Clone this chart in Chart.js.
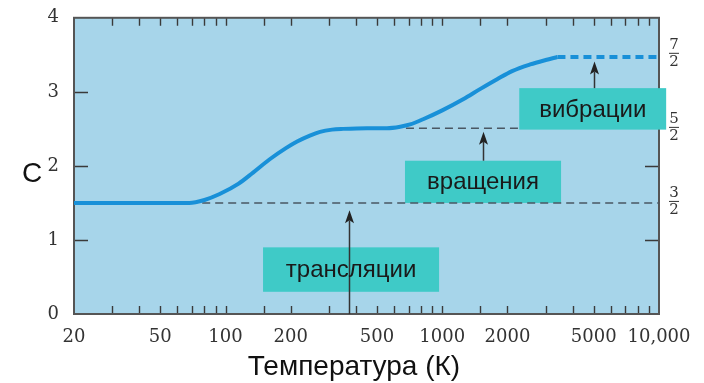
<!DOCTYPE html>
<html>
<head>
<meta charset="utf-8">
<script src="https://cdn.jsdelivr.net/npm/chart.js@4"></script>
<style>
  body { margin: 0; background: #fff; }
  #wrap { width: 704px; height: 383px; }
</style>
</head>
<body>
<div id="wrap"><canvas id="myChart" width="704" height="383"></canvas></div>
<script>
// heat capacity curve
var curveT = [20, 40, 68, 80, 94, 115, 134, 160, 190, 214, 245, 273, 310, 349, 450, 556, 640, 711, 816, 1000, 1248, 1500, 1791, 2100, 2543, 3000, 3400];
var curveC = [1.5, 1.5, 1.5, 1.54, 1.62, 1.76, 1.91, 2.09, 2.24, 2.33, 2.41, 2.46, 2.49, 2.50, 2.51, 2.51, 2.53, 2.56, 2.63, 2.75, 2.90, 3.04, 3.17, 3.28, 3.37, 3.43, 3.47];
// dashed continuation (vibration plateau)
var vibT = [3400, 10000];
var vibC = [3.47, 3.47];
// reference levels
var transT = [68, 10000];
var transC = [1.5, 1.5];
var rotT = [680, 2266];
var rotC = [2.51, 2.51];
// axis labels
var xLabelVals = [20, 50, 100, 200, 500, 1000, 2000, 5000, 10000];
var yLabelVals = [0, 1, 2, 3, 4];
var fracLevels = [1.5, 2.5, 3.5];
var fracNums = ['3', '5', '7'];
// annotation boxes: arrow at T, arrow from C0 to C1, box T range / C range
var notes = [
  { text: 'трансляции', arrowT: 370, from: 0, to: 1.40, t0: 149, t1: 967, c0: 0.30, c1: 0.90 },
  { text: 'вращения', arrowT: 1540, from: 2.07, to: 2.46, t0: 673, t1: 3533, c0: 1.50, c1: 2.07 },
  { text: 'вибрации', arrowT: 5000, from: 3.05, to: 3.41, t0: 2266, t1: 10790, c0: 2.49, c1: 3.05 }
];

function pts(xs, ys) {
  return xs.map(function (x, i) { return { x: x, y: ys[i] }; });
}

var blue = '#1890d8';
var grey = '#4a5763';

var decor = {
  id: 'decor',
  beforeDatasetsDraw: function (chart) {
    var ctx = chart.ctx, ca = chart.chartArea;
    var xs = chart.scales.x, ys = chart.scales.y;
    ctx.save();
    ctx.fillStyle = '#a7d5ea';
    ctx.fillRect(ca.left, ca.top, ca.right - ca.left, ca.bottom - ca.top);
    // inward ticks
    ctx.strokeStyle = '#3a3a3a';
    ctx.lineWidth = 1.4;
    ctx.beginPath();
    xs.ticks.forEach(function (t) {
      var px = Math.round(xs.getPixelForValue(t.value)) + 0.5;
      if (px <= ca.left + 2 || px >= ca.right - 2) return;
      ctx.moveTo(px, ca.bottom); ctx.lineTo(px, ca.bottom - 8);
      ctx.moveTo(px, ca.top); ctx.lineTo(px, ca.top + 8);
    });
    [1, 2, 3].forEach(function (v) {
      var py = Math.round(ys.getPixelForValue(v)) + 0.5;
      ctx.moveTo(ca.left, py); ctx.lineTo(ca.left + 14, py);
      ctx.moveTo(ca.right, py); ctx.lineTo(ca.right - 14, py);
    });
    ctx.stroke();
    // frame
    ctx.strokeStyle = '#555';
    ctx.lineWidth = 2;
    ctx.strokeRect(ca.left, ca.top, ca.right - ca.left, ca.bottom - ca.top);
    // boxes
    ctx.fillStyle = '#3fcac7';
    notes.forEach(function (n) {
      var x0 = xs.getPixelForValue(n.t0), x1 = xs.getPixelForValue(n.t1);
      var y0 = ys.getPixelForValue(n.c1), y1 = ys.getPixelForValue(n.c0);
      ctx.fillRect(x0, y0, x1 - x0, y1 - y0);
    });
    ctx.restore();
  },
  afterDatasetsDraw: function (chart) {
    var ctx = chart.ctx;
    var xs = chart.scales.x, ys = chart.scales.y;
    ctx.save();
    notes.forEach(function (n) {
      var ax = Math.round(xs.getPixelForValue(n.arrowT)) + 0.5;
      var yA = ys.getPixelForValue(n.from), yB = ys.getPixelForValue(n.to);
      ctx.strokeStyle = '#333';
      ctx.lineWidth = 1.5;
      ctx.beginPath();
      ctx.moveTo(ax, yA); ctx.lineTo(ax, yB + 10);
      ctx.stroke();
      ctx.fillStyle = '#222';
      ctx.beginPath();
      ctx.moveTo(ax, yB);
      ctx.lineTo(ax - 4.5, yB + 13);
      ctx.lineTo(ax, yB + 10);
      ctx.lineTo(ax + 4.5, yB + 13);
      ctx.closePath();
      ctx.fill();
      var cx = (xs.getPixelForValue(n.t0) + xs.getPixelForValue(n.t1)) / 2;
      var cy = (ys.getPixelForValue(n.c0) + ys.getPixelForValue(n.c1)) / 2;
      ctx.fillStyle = '#1a1a1a';
      ctx.font = '24px "Liberation Sans", Arial, sans-serif';
      ctx.textAlign = 'center';
      ctx.textBaseline = 'middle';
      ctx.fillText(n.text, cx, cy + 1);
    });
    ctx.restore();
  },
  afterDraw: function (chart) {
    var ctx = chart.ctx, ca = chart.chartArea;
    var ys = chart.scales.y;
    ctx.save();
    ctx.fillStyle = '#111';
    ctx.textAlign = 'center';
    ctx.textBaseline = 'middle';
    ctx.font = '28px "Liberation Sans", Arial, sans-serif';
    ctx.fillText('C', 32, 174);
    ctx.fillText('Температура (К)', 354, 367);
    // right-hand fractions
    ctx.font = '15px "DejaVu Serif", serif';
    ctx.fillStyle = '#333';
    fracLevels.forEach(function (v, i) {
      var py = ys.getPixelForValue(v) - 2;
      var fx = ca.right + 15;
      ctx.fillText(fracNums[i], fx, py - 8);
      ctx.fillText('2', fx, py + 9);
      ctx.strokeStyle = '#333';
      ctx.lineWidth = 1;
      ctx.beginPath();
      ctx.moveTo(fx - 5, py + 0.5); ctx.lineTo(fx + 5, py + 0.5);
      ctx.stroke();
    });
    ctx.restore();
  }
};

var config = {
  type: 'line',
  data: {
    datasets: [
      { data: pts(curveT, curveC), borderColor: blue, borderWidth: 4, pointRadius: 0, cubicInterpolationMode: 'monotone' },
      { data: pts(vibT, vibC), borderColor: blue, borderWidth: 4, pointRadius: 0, borderDash: [8, 5] },
      { data: pts(transT, transC), borderColor: grey, borderWidth: 1.5, pointRadius: 0, borderDash: [8, 5] },
      { data: pts(rotT, rotC), borderColor: grey, borderWidth: 1.5, pointRadius: 0, borderDash: [8, 5] }
    ]
  },
  options: {
    responsive: false,
    animation: false,
    layout: { padding: { top: 15, right: 45, left: 0, bottom: 0 } },
    plugins: { legend: { display: false }, tooltip: { enabled: false } },
    scales: {
      x: {
        type: 'logarithmic',
        min: 20,
        max: 10000,
        grid: { display: false },
        border: { display: false },
        ticks: {
          autoSkip: false,
          maxRotation: 0,
          padding: 5,
          color: '#333',
          font: { family: '"DejaVu Serif", serif', size: 18 },
          callback: function (v) {
            if (xLabelVals.indexOf(v) < 0) return '';
            return v >= 10000 ? v.toLocaleString('en-US') : String(v);
          }
        },
        afterFit: function (s) { s.height = 69; }
      },
      y: {
        min: 0,
        max: 4,
        grid: { display: false },
        border: { display: false },
        ticks: {
          stepSize: 1,
          padding: 7,
          color: '#333',
          font: { family: '"DejaVu Serif", serif', size: 18 },
          callback: function (v) { return yLabelVals.indexOf(v) >= 0 ? String(v) : ''; }
        },
        afterFit: function (s) { s.width = 74; }
      }
    }
  },
  plugins: [decor]
};

var myChart = new Chart(document.getElementById('myChart'), config);
</script>
</body>
</html>
